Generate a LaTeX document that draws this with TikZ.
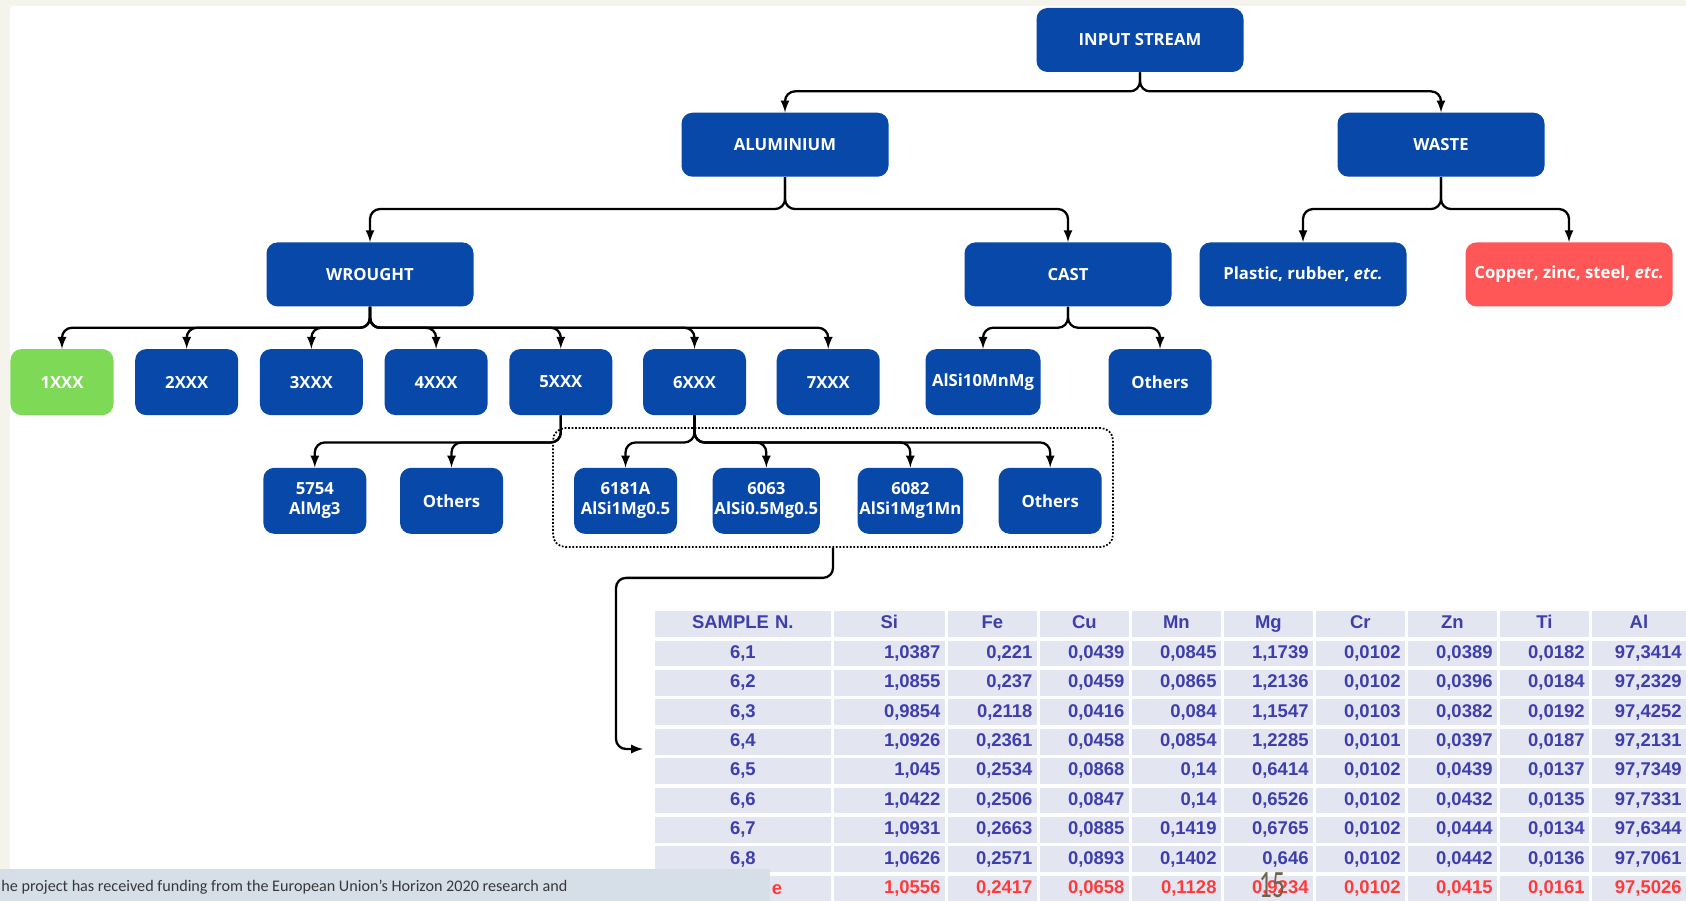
\documentclass[tikz,border=0pt]{standalone}
\usepackage{fontspec}
\newfontfamily\boxfont{Open Sans}
\newfontfamily\tabfont{Liberation Sans}
\newfontfamily\footfont{Carlito}
\usetikzlibrary{positioning,matrix}

\definecolor{boxblue}{RGB}{8,72,168}
\definecolor{boxgreen}{RGB}{126,217,87}
\definecolor{boxred}{RGB}{255,87,87}
\definecolor{pagebeige}{RGB}{244,243,236}
\definecolor{tabbg}{RGB}{227,229,241}
\definecolor{tabtext}{RGB}{62,62,172}
\definecolor{tabred}{RGB}{255,58,58}
\definecolor{footbg}{RGB}{214,223,231}
\definecolor{footgrey}{RGB}{55,55,60}
\definecolor{pagenum}{RGB}{110,100,75}

\begin{document}
\begin{tikzpicture}[font=\boxfont\bfseries\fontsize{9.5}{11.5}\selectfont,
    big/.style={rectangle, rounded corners=0.22cm, fill=boxblue, text=white,
                minimum width=4.14cm, minimum height=1.28cm, inner sep=1pt,
                align=center},
    small/.style={big, minimum width=2.06cm, minimum height=1.32cm},
    link/.style={->, >=latex, line width=1.3pt, rounded corners=0.2cm},
    tabtxt/.style={font=\tabfont\bfseries\fontsize{10.5}{12}\selectfont},
    cell/.style={tabtxt, rectangle, fill=tabbg, draw=white, line width=1pt,
                 outer sep=0pt, inner xsep=0.1cm, inner ysep=0pt,
                 minimum height=0.553cm, text height=1.6ex, text depth=0.35ex,
                 align=right, text=tabtext}]
   \fill[pagebeige] (0,0) rectangle (33.72,-18.02);
   \fill[white] (0.2,-0.12) rectangle (33.72,-18.02);
   \useasboundingbox (0,0) rectangle (33.72,-18.02);

   % top of the tree
   \node[big] (input) at (22.8,-0.8) {INPUT STREAM};
   \node[big, below=0.8cm of input, xshift=-7.1cm] (alu) {ALUMINIUM};
   \node[big, below=0.8cm of input, xshift=6.02cm] (waste) {WASTE};
   \node[big, below=1.3cm of alu, xshift=-8.3cm] (wrought) {WROUGHT};
   \node[big, below=1.3cm of alu, xshift=5.66cm] (cast) {CAST};
   \node[big, below=1.3cm of waste, xshift=-2.76cm] (plastic)
        {Plastic, rubber, \textit{etc.}};
   \node[big, below=1.3cm of waste, xshift=2.56cm, fill=boxred] (copper)
        {Copper, zinc, steel, \textit{etc.}};

   % alloy series
   \node[small, below=0.84cm of wrought, xshift=-6.16cm, fill=boxgreen] (w1) {1XXX};
   \node[small, right=0.42cm of w1] (w2) {2XXX};
   \node[small, right=0.42cm of w2] (w3) {3XXX};
   \node[small, right=0.42cm of w3] (w4) {4XXX};
   \node[small, right=0.42cm of w4] (w5) {5XXX};
   \node[small, right=0.6cm of w5] (w6) {6XXX};
   \node[small, right=0.6cm of w6] (w7) {7XXX};
   \node[small, below=0.84cm of cast, xshift=-1.7cm, minimum width=2.3cm] (alsi) {AlSi10MnMg};
   \node[small, below=0.84cm of cast, xshift=1.84cm] (othcast) {Others};

   % single alloys
   \node[small, below=1.04cm of w5, xshift=-4.92cm] (a5754) {5754\\AlMg3};
   \node[small, right=0.66cm of a5754] (oth5) {Others};
   \node[small, below=1.04cm of w6, xshift=-1.38cm] (a6181) {6181A\\AlSi1Mg0.5};
   \node[small, right=0.7cm of a6181] (a6063) {6063\\AlSi0.5Mg0.5};
   \node[small, right=0.74cm of a6063] (a6082) {6082\\AlSi1Mg1Mn};
   \node[small, right=0.7cm of a6082] (oth6) {Others};
   \node[draw, densely dotted, line width=1pt, rounded corners=0.25cm,
         minimum width=11.2cm, minimum height=2.38cm] (grp6) at (16.66,-9.75) {};

   % branches
   \foreach \c in {alu,waste}
      \draw[link] (input.south) -- ++(0,-0.38) -| (\c.north);
   \foreach \c in {wrought,cast}
      \draw[link] (alu.south) -- ++(0,-0.64) -| (\c.north);
   \foreach \c in {plastic,copper}
      \draw[link] (waste.south) -- ++(0,-0.64) -| (\c.north);
   \foreach \c in {w1,w2,w3,w4,w5,w6,w7}
      \draw[link] (wrought.south) -- ++(0,-0.42) -| (\c.north);
   \foreach \c in {alsi,othcast}
      \draw[link] (cast.south) -- ++(0,-0.42) -| (\c.north);
   \foreach \c in {a5754,oth5}
      \draw[link] (w5.south) -- ++(0,-0.54) -| (\c.north);
   \foreach \c in {a6181,a6063,a6082,oth6}
      \draw[link] (w6.south) -- ++(0,-0.54) -| (\c.north);

   % composition table
   \matrix (tab) [matrix of nodes, nodes in empty cells, anchor=north west,
      inner sep=0pt, row sep=0pt, column sep=0pt, nodes={cell},
      column 1/.style={nodes={text width=3.345cm, align=center}},
      column 2/.style={nodes={text width=2.045cm}},
      column 3/.style={nodes={text width=1.605cm}},
      column 4/.style={nodes={text width=1.605cm}},
      column 5/.style={nodes={text width=1.605cm}},
      column 6/.style={nodes={text width=1.605cm}},
      column 7/.style={nodes={text width=1.605cm}},
      column 8/.style={nodes={text width=1.605cm}},
      column 9/.style={nodes={text width=1.605cm}},
      column 10/.style={nodes={text width=1.705cm}},
      row 1/.style={nodes={align=center}},
      row 10/.style={nodes={text=tabred}}] at (13.06,-12.18) {
      SAMPLE N. & Si & Fe & Cu & Mn & Mg & Cr & Zn & Ti & Al \\
      6,1 & 1,0387 & 0,221 & 0,0439 & 0,0845 & 1,1739 & 0,0102 & 0,0389 & 0,0182 & 97,3414 \\
      6,2 & 1,0855 & 0,237 & 0,0459 & 0,0865 & 1,2136 & 0,0102 & 0,0396 & 0,0184 & 97,2329 \\
      6,3 & 0,9854 & 0,2118 & 0,0416 & 0,084 & 1,1547 & 0,0103 & 0,0382 & 0,0192 & 97,4252 \\
      6,4 & 1,0926 & 0,2361 & 0,0458 & 0,0854 & 1,2285 & 0,0101 & 0,0397 & 0,0187 & 97,2131 \\
      6,5 & 1,045 & 0,2534 & 0,0868 & 0,14 & 0,6414 & 0,0102 & 0,0439 & 0,0137 & 97,7349 \\
      6,6 & 1,0422 & 0,2506 & 0,0847 & 0,14 & 0,6526 & 0,0102 & 0,0432 & 0,0135 & 97,7331 \\
      6,7 & 1,0931 & 0,2663 & 0,0885 & 0,1419 & 0,6765 & 0,0102 & 0,0444 & 0,0134 & 97,6344 \\
      6,8 & 1,0626 & 0,2571 & 0,0893 & 0,1402 & 0,646 & 0,0102 & 0,0442 & 0,0136 & 97,7061 \\
       & 1,0556 & 0,2417 & 0,0658 & 0,1128 & 0,9234 & 0,0102 & 0,0415 & 0,0161 & 97,5026 \\
   };
   \coordinate (tabin) at (12.86,-14.98);
   \draw[link] (grp6.south) -- ++(0,-0.6) -| ([xshift=-0.54cm]tabin) -- (tabin);

   % footer
   \fill[footbg] (0,-17.38) rectangle (15.4,-18.02);
   \node[anchor=west, inner sep=0pt, text=footgrey,
         font=\footfont\fontsize{9.2}{11}\selectfont] (fund) at (0.02,-17.74)
        {he project has received funding from the European Union’s Horizon 2020 research and};
   \node[tabtxt, text=tabred, anchor=base west, inner sep=0pt] (avg)
        at (15.43,-17.88) {e};
   \node[text=pagenum, inner sep=0pt, transform shape, xscale=0.65,
         font=\footfont\fontsize{22}{24}\selectfont] (page) at (25.44,-17.7) {15};
\end{tikzpicture}
\end{document}
